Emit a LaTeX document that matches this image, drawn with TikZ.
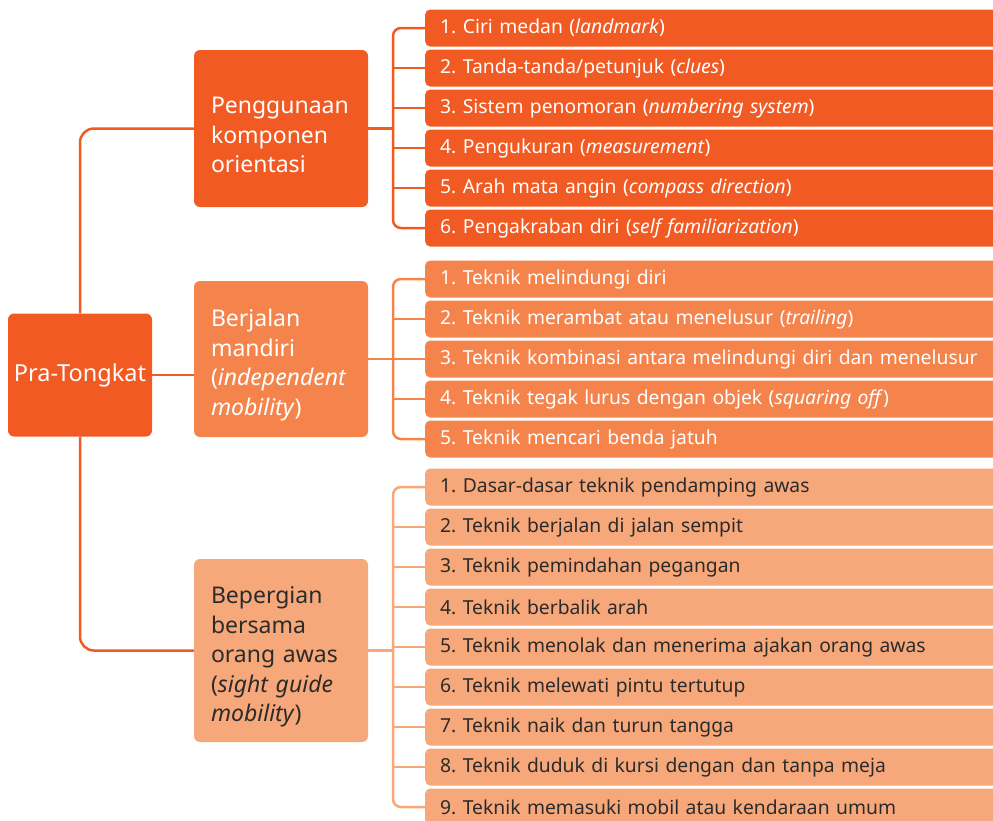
\documentclass[tikz,border=0pt]{standalone}
\usepackage{fontspec}
\setmainfont{Noto Sans}
\frenchspacing
\usetikzlibrary{positioning}
\definecolor{darkor}{HTML}{F15A22}
\definecolor{midor}{HTML}{F5844C}
\definecolor{lightor}{HTML}{F7A87B}
\definecolor{darktext}{HTML}{2B2B2B}
\newcommand{\tpad}{\rule{0pt}{30pt}}

\begin{document}
\begin{tikzpicture}[
    x=1pt, y=-1pt,
    node distance=2.6pt,
    root/.style={fill=darkor, text=white, rounded corners=6pt, minimum width=144pt, minimum height=123pt, font=\fontsize{23.5}{28}\selectfont},
    topic/.style={rounded corners=6pt, minimum width=174pt, text width=140pt, inner xsep=17pt, align=left, font=\fontsize{23}{29.5}\selectfont},
    leaf/.style={anchor=west, rounded corners=5pt, minimum height=37pt, text width=560pt, inner xsep=15pt, align=left, font=\fontsize{19.3}{22}\selectfont},
    leaf1/.style={leaf, fill=darkor, text=white},
    leaf2/.style={leaf, fill=midor, text=white},
    leaf3/.style={leaf, fill=lightor, text=darktext},
    line1/.style={draw=darkor, line width=2.5pt},
    line2/.style={draw=midor, line width=2.5pt},
    line3/.style={draw=lightor, line width=2.5pt},
]
    \useasboundingbox (0,0) rectangle (993,820);

    % main nodes
    \node[root] (pra) at (80,375) {Pra-Tongkat};
    \node[topic, fill=darkor, text=white, minimum height=157pt] (orient) at (281,128.5)
        {\tpad Penggunaan\\komponen\\orientasi};
    \node[topic, fill=midor, text=white, minimum height=156pt] (mandiri) at (281,359)
        {\tpad Berjalan\\mandiri\\(\textit{independent}\\\textit{mobility})};
    \node[topic, fill=lightor, text=darktext, minimum height=183pt] (awas) at (281,650.5)
        {\tpad Bepergian\\bersama\\orang awas\\(\textit{sight guide}\\\textit{mobility})};

    % orientasi
    \node[leaf1] (a1) at (425,28) {1. Ciri medan (\textit{landmark})};
    \node[leaf1, below=of a1] (a2) {2. Tanda-tanda/petunjuk (\textit{clues})};
    \node[leaf1, below=of a2] (a3) {3. Sistem penomoran (\textit{numbering system})};
    \node[leaf1, below=of a3] (a4) {4. Pengukuran (\textit{measurement})};
    \node[leaf1, below=of a4] (a5) {5. Arah mata angin (\textit{compass direction})};
    \node[leaf1, below=of a5] (a6) {6. Pengakraban diri (\textit{self familiarization})};

    % mandiri
    \node[leaf2] (b1) at (425,279) {1. Teknik melindungi diri};
    \node[leaf2, below=of b1] (b2) {2. Teknik merambat atau menelusur (\textit{trailing})};
    \node[leaf2, below=of b2] (b3) {3. Teknik kombinasi antara melindungi diri dan menelusur};
    \node[leaf2, below=of b3] (b4) {4. Teknik tegak lurus dengan objek (\textit{squaring off})};
    \node[leaf2, below=of b4] (b5) {5. Teknik mencari benda jatuh};

    % orang awas
    \node[leaf3] (c1) at (425,487) {1. Dasar-dasar teknik pendamping awas};
    \node[leaf3, below=of c1] (c2) {2. Teknik berjalan di jalan sempit};
    \node[leaf3, below=of c2] (c3) {3. Teknik pemindahan pegangan};
    \node[leaf3, below=of c3] (c4) {4. Teknik berbalik arah};
    \node[leaf3, below=of c4] (c5) {5. Teknik menolak dan menerima ajakan orang awas};
    \node[leaf3, below=of c5] (c6) {6. Teknik melewati pintu tertutup};
    \node[leaf3, below=of c6] (c7) {7. Teknik naik dan turun tangga};
    \node[leaf3, below=of c7] (c8) {8. Teknik duduk di kursi dengan dan tanpa meja};
    \node[leaf3, below=of c8] (c9) {9. Teknik memasuki mobil atau kendaraan umum};

    % root links
    \draw[line1, rounded corners=14pt] (pra.north) |- (orient.west);
    \draw[line1, rounded corners=14pt] (pra.south) |- (awas.west);
    \draw[line1] (pra.east) -- (pra.east -| mandiri.west);

    % branch bars
    \coordinate (j1) at (393,0);
    \draw[line1, rounded corners=8pt] (a1.west) -- (a1.west -| j1) -- (a6.west -| j1) -- (a6.west);
    \draw[line1] (orient.east) -- (orient.east -| j1);
    \draw[line1] (a2.west) -- (a2.west -| j1);
    \draw[line1] (a3.west) -- (a3.west -| j1);
    \draw[line1] (a4.west) -- (a4.west -| j1);
    \draw[line1] (a5.west) -- (a5.west -| j1);

    \draw[line2, rounded corners=8pt] (b1.west) -- (b1.west -| j1) -- (b5.west -| j1) -- (b5.west);
    \draw[line2] (mandiri.east) -- (mandiri.east -| j1);
    \draw[line2] (b2.west) -- (b2.west -| j1);
    \draw[line2] (b3.west) -- (b3.west -| j1);
    \draw[line2] (b4.west) -- (b4.west -| j1);

    \draw[line3, rounded corners=8pt] (c1.west) -- (c1.west -| j1) -- (c9.west -| j1) -- (c9.west);
    \draw[line3] (awas.east) -- (awas.east -| j1);
    \draw[line3] (c2.west) -- (c2.west -| j1);
    \draw[line3] (c3.west) -- (c3.west -| j1);
    \draw[line3] (c4.west) -- (c4.west -| j1);
    \draw[line3] (c5.west) -- (c5.west -| j1);
    \draw[line3] (c6.west) -- (c6.west -| j1);
    \draw[line3] (c7.west) -- (c7.west -| j1);
    \draw[line3] (c8.west) -- (c8.west -| j1);
\end{tikzpicture}
\end{document}
